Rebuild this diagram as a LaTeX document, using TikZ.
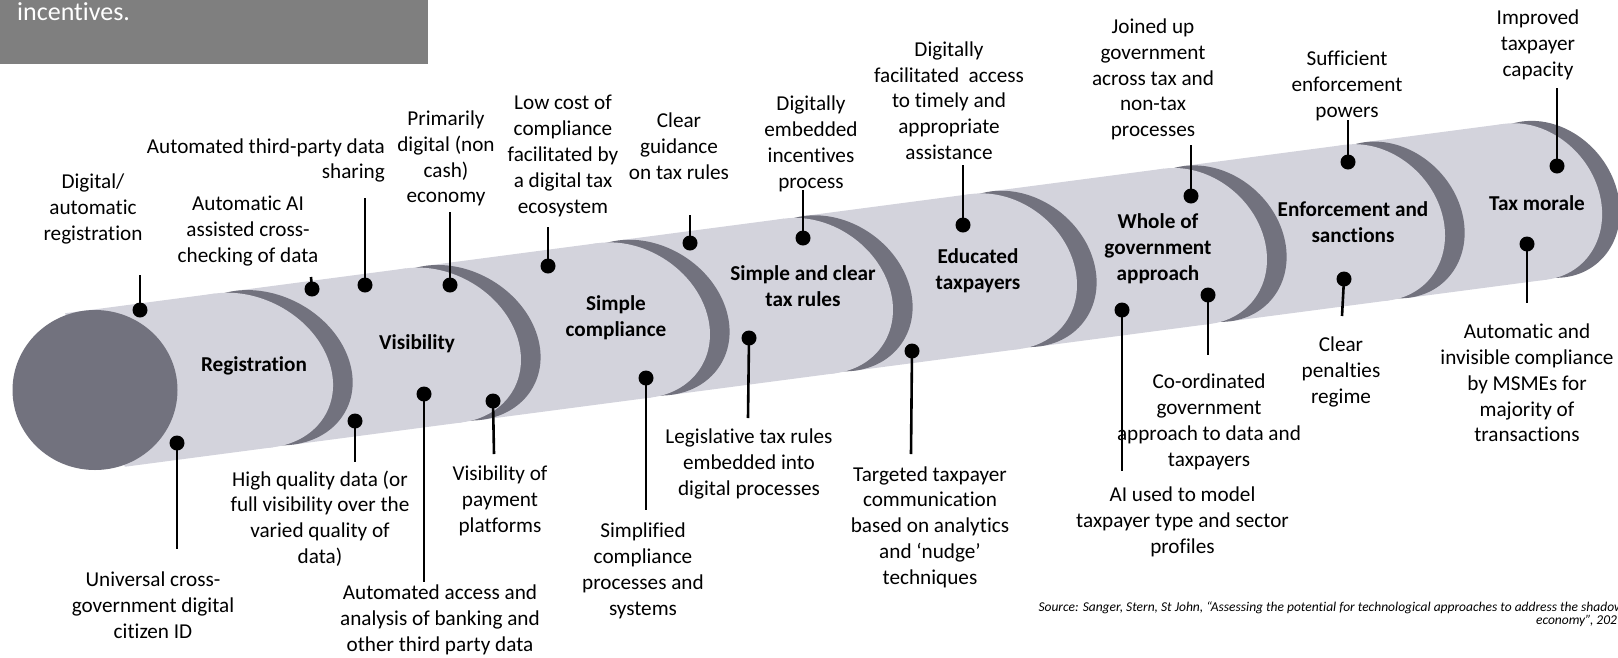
\documentclass[tikz,border=0pt]{standalone}
\usepackage{fontspec}
\setmainfont{Carlito}[Ligatures=NoCommon]
\definecolor{segLight}{RGB}{211,211,220}
\definecolor{segDark}{RGB}{114,114,126}
\definecolor{boxGrey}{RGB}{127,127,127}

% conjugate semi-diameters (Q along the axis, P across it) and centre
% of the cylinder cross-section at axis position #1
\newcommand\axisgeom[1]{%
  \pgfmathsetmacro\phiv{21.3-(#1)/1450*6}%
  \pgfmathsetmacro\Rv{80/cos(\phiv-7.5)}%
  \pgfmathsetmacro\qv{86-(#1)/1450*12}%
  \pgfmathsetmacro\Qx{\qv*0.9915}%
  \pgfmathsetmacro\Qy{\qv*0.1305}%
  \pgfmathsetmacro\Ps{\Rv*sin(\phiv)}%
  \pgfmathsetmacro\Pc{\Rv*cos(\phiv)}%
  \pgfmathsetmacro\cx{95+0.9915*(#1)}%
  \pgfmathsetmacro\cy{-390+0.1305*(#1)}%
}
% fills the current cross-section ellipse (four Bezier quarters)
\newcommand\ellipsefill[1]{%
  \pgfmathsetmacro\kPs{0.5523*\Ps}\pgfmathsetmacro\kPc{0.5523*\Pc}%
  \pgfmathsetmacro\kQx{0.5523*\Qx}\pgfmathsetmacro\kQy{0.5523*\Qy}%
  \fill[#1] ({\cx+\Qx},{\cy+\Qy})
    .. controls ({\cx+\Qx-\kPs},{\cy+\Qy+\kPc}) and ({\cx-\Ps+\kQx},{\cy+\Pc+\kQy}) .. ({\cx-\Ps},{\cy+\Pc})
    .. controls ({\cx-\Ps-\kQx},{\cy+\Pc-\kQy}) and ({\cx-\Qx-\kPs},{\cy-\Qy+\kPc}) .. ({\cx-\Qx},{\cy-\Qy})
    .. controls ({\cx-\Qx+\kPs},{\cy-\Qy-\kPc}) and ({\cx+\Ps-\kQx},{\cy-\Pc-\kQy}) .. ({\cx+\Ps},{\cy-\Pc})
    .. controls ({\cx+\Ps+\kQx},{\cy-\Pc+\kQy}) and ({\cx+\Qx+\kPs},{\cy+\Qy-\kPc}) .. ({\cx+\Qx},{\cy+\Qy}) -- cycle;
}
\newcommand\ringcap[2]{\axisgeom{#1}\ellipsefill{#2}}
% light body of one segment with its rounded end
\newcommand\segbody[2]{%
  \axisgeom{#1}%
  \coordinate (sa-t) at ({\cx-\Ps},{\cy+\Pc});
  \coordinate (sa-b) at ({\cx+\Ps},{\cy-\Pc});
  \axisgeom{#2}%
  \coordinate (sb-t) at ({\cx-\Ps},{\cy+\Pc});
  \coordinate (sb-b) at ({\cx+\Ps},{\cy-\Pc});
  \fill[segLight] (sa-t) -- (sb-t) -- (sb-b) -- (sa-b) -- cycle;
  \ellipsefill{segLight}%
}

\tikzset{
  lbl/.style={align=center, inner sep=0pt, font=\fontsize{21.2}{25.8}\selectfont},
  seglbl/.style={align=center, inner sep=0pt, font=\fontsize{21.2}{25.8}\selectfont\bfseries},
  dot/.style={circle, fill=black, minimum size=15pt, inner sep=0pt},
  conn/.style={line width=2.6pt, black},
}

\begin{document}
\begin{tikzpicture}[x=1pt,y=1pt]
\useasboundingbox (0,0) rectangle (1618,-657);
\clip (0,0) rectangle (1618,-657);

% header box
\fill[boxGrey] (0,0) rectangle (428,-64);
\node[anchor=base west, inner sep=0pt, text=white, font=\fontsize{26}{31}\selectfont] (boxtxt) at (17,-20) {incentives.};

% segmented cylinder, drawn from the far end towards the front cap
\ringcap{1461}{segDark}
\segbody{1302.9}{1442.9}\ringcap{1302.9}{segDark}
\segbody{1121.6}{1282.9}\ringcap{1121.6}{segDark}
\segbody{928.1}{1101.6}\ringcap{928.1}{segDark}
\segbody{740.7}{908.1}\ringcap{740.7}{segDark}
\segbody{554.3}{720.7}\ringcap{554.3}{segDark}
\segbody{361.8}{534.3}\ringcap{361.8}{segDark}
\segbody{170.4}{341.8}\ringcap{170.4}{segDark}
\segbody{0}{150.4}
% front cap
\fill[segDark] (95,-390) ellipse [x radius=82.5, y radius=80];

% segment titles
\node[seglbl] (s1) at (254,-366) {Registration};
\node[seglbl] (s2) at (417,-344) {Visibility};
\node[seglbl] (s3) at (616,-318) {Simple\\compliance};
\node[seglbl] (s4) at (803,-286) {Simple and clear\\tax rules};
\node[seglbl] (s5) at (978,-271) {Educated\\taxpayers};
\node[seglbl] (s6) at (1158,-249) {Whole of\\government\\approach};
\node[seglbl] (s7) at (1353,-222) {Enforcement and\\sanctions};
\node[seglbl] (s8) at (1537,-203) {Tax morale};

% labels above the cylinder
\node[lbl] (t1) at (93,-209) {Digital/\\automatic\\registration};
\node[dot] (d1) at (140,-310) {};
\coordinate (e1) at (140,-275);
\draw[conn] (e1) -- (d1.center);

\node[lbl] (t2) at (248,-231) {Automatic AI\\assisted cross-\\checking of data};
\node[dot] (d2) at (312,-289) {};
\coordinate (e2) at (311,-277);
\draw[conn] (e2) -- (d2.center);

\node[lbl, align=right, anchor=east] (t3) at (385,-160.5) {Automated third-party data\\sharing};
\node[dot] (d3) at (365,-285) {};
\coordinate (e3) at (365,-198);
\draw[conn] (e3) -- (d3.center);

\node[lbl] (t4) at (446,-158.5) {Primarily\\digital (non\\cash)\\economy};
\node[dot] (d4) at (450,-285) {};
\coordinate (e4) at (450,-212);
\draw[conn] (e4) -- (d4.center);

\node[lbl] (t5) at (563,-156) {Low cost of\\compliance\\facilitated by\\a digital tax\\ecosystem};
\node[dot] (d5) at (548,-266) {};
\coordinate (e5) at (548,-227);
\draw[conn] (e5) -- (d5.center);

\node[lbl] (t6) at (679,-146) {Clear\\guidance\\on tax rules};
\node[dot] (d6) at (690,-243) {};
\coordinate (e6) at (690,-215);
\draw[conn] (e6) -- (d6.center);

\node[lbl] (t7) at (811,-144) {Digitally\\embedded\\incentives\\process};
\node[dot] (d7) at (803,-238) {};
\coordinate (e7) at (803,-190);
\draw[conn] (e7) -- (d7.center);

\node[lbl] (t8) at (949,-100.6) {Digitally\\facilitated \ access\\to timely and\\appropriate\\assistance};
\node[dot] (d8) at (963,-225) {};
\coordinate (e8) at (963,-165);
\draw[conn] (e8) -- (d8.center);

\node[lbl] (t9) at (1153,-79.4) {Joined up\\government\\across tax and\\non-tax\\processes};
\node[dot] (d9) at (1191,-196) {};
\coordinate (e9) at (1191,-145);
\draw[conn] (e9) -- (d9.center);

\node[lbl] (t10) at (1347,-86) {Sufficient\\enforcement\\powers};
\node[dot] (d10) at (1348,-162) {};
\coordinate (e10) at (1348,-120);
\draw[conn] (e10) -- (d10.center);

\node[lbl] (t11) at (1538,-45) {Improved\\taxpayer\\capacity};
\node[dot] (d11) at (1557,-166) {};
\coordinate (e11) at (1557,-88);
\draw[conn] (e11) -- (d11.center);

% labels below the cylinder
\node[dot] (b1) at (177,-443) {};
\coordinate (f1) at (177,-549);
\draw[conn] (b1.center) -- (f1);
\node[lbl] (u1) at (153,-605) {Universal cross-\\government digital\\citizen ID};

\node[dot] (b2) at (355,-421) {};
\coordinate (f2) at (355,-462);
\draw[conn] (b2.center) -- (f2);
\node[lbl] (u2) at (320,-518.5) {High quality data (or\\full visibility over the\\varied quality of\\data)};

\node[dot] (b3) at (424,-394) {};
\coordinate (f3) at (424,-582);
\draw[conn] (b3.center) -- (f3);
\node[lbl] (u3) at (440,-620) {Automated access and\\analysis of banking and\\other third party data};

\node[dot] (b4) at (493,-401) {};
\coordinate (f4) at (494,-454);
\draw[conn] (b4.center) -- (f4);
\node[lbl] (u4) at (500,-501) {Visibility of\\payment\\platforms};

\node[dot] (b5) at (646,-378) {};
\coordinate (f5) at (646,-510);
\draw[conn] (b5.center) -- (f5);
\node[lbl] (u5) at (643,-571) {Simplified\\compliance\\processes and\\systems};

\node[dot] (b6) at (749,-338) {};
\coordinate (f6) at (748,-418);
\draw[conn] (b6.center) -- (f6);
\node[lbl] (u6) at (749,-464) {Legislative tax rules\\embedded into\\digital processes};

\node[dot] (b7) at (912,-351) {};
\coordinate (f7) at (911,-454);
\draw[conn] (b7.center) -- (f7);
\node[lbl] (u7) at (930,-527) {Targeted taxpayer\\communication\\based on analytics\\and ‘nudge’\\techniques};

\node[dot] (b8) at (1122,-310) {};
\coordinate (f8) at (1122,-471);
\node[lbl] (u9) at (1209,-422) {Co-ordinated\\government\\approach to data and\\taxpayers};
\draw[conn] (b8.center) -- (f8);
\node[lbl] (u8) at (1182.5,-522) {AI used to model\\taxpayer type and sector\\profiles};

\node[dot] (b9) at (1208,-295) {};
\coordinate (f9) at (1208,-355);
\draw[conn] (b9.center) -- (f9);

\node[dot] (b10) at (1344,-279) {};
\coordinate (f10) at (1342,-316);
\draw[conn] (b10.center) -- (f10);
\node[lbl] (u10) at (1341,-372) {Clear\\penalties\\regime};

\node[dot] (b11) at (1527,-244) {};
\coordinate (f11) at (1527,-303);
\draw[conn] (b11.center) -- (f11);
\node[lbl] (u11) at (1527,-383) {Automatic and\\invisible compliance\\by MSMEs for\\majority of\\transactions};

% source note
\node[align=right, anchor=east, inner sep=0pt, font=\fontsize{13.5}{11.3}\selectfont\itshape] (src) at (1624,-614.5)
  {Source: Sanger, Stern, St John, “Assessing the potential for technological approaches to address the shadow\\economy”, 2021};
\end{tikzpicture}
\end{document}
